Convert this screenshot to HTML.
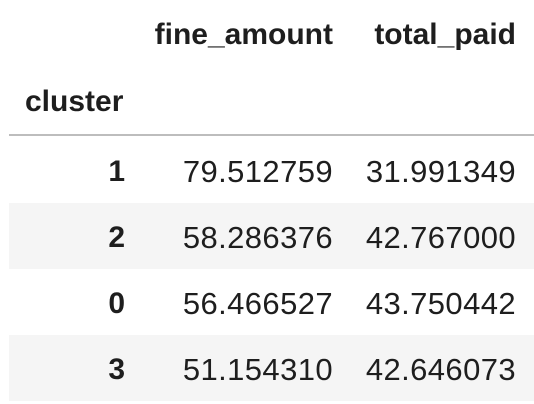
<!DOCTYPE html>
<html><head><meta charset="utf-8"><style>
body{margin:0;width:534px;height:404px;background:#fff;overflow:hidden;font-family:"Liberation Sans",Arial,sans-serif;color:#1e1e1e;position:relative}
.t{position:absolute;font-size:30px;line-height:30px;white-space:nowrap}
.n{font-size:31px;letter-spacing:0.4px}
.b{font-weight:bold}
.band{position:absolute;left:9px;width:525px;height:66px;background:#f5f5f5}
</style></head><body>
<div id="tbl"></div>
<script>
const idx=["1","2","0","3"];
const fine=["79.512759","58.286376","56.466527","51.154310"];
const paid=["31.991349","42.767000","43.750442","42.646073"];
const tbl=document.getElementById('tbl');
function txt(s,right,base,cls,name){
  const d=document.createElement('div');
  d.className='t '+cls;
  d.textContent=s;
  d.style.right=(534-right)+'px';
  d.style.top=(base-27)+'px';
  
  
  tbl.appendChild(d);
}
for(let i=0;i<idx.length;i++){
  if(i%2===1){
    const band=document.createElement('div');
    band.className='band';
    band.style.top=(137+66*i)+'px';
    
    
    tbl.appendChild(band);
  }
}
txt('fine_amount',333,47,'b','column-header-fine-amount');
txt('total_paid',516,47,'b','column-header-total-paid');
const c=document.createElement('div');
c.className='t b';c.textContent='cluster';c.style.left='25px';c.style.top=(114-27)+'px';


tbl.appendChild(c);
const line=document.createElement('div');
line.style.cssText='position:absolute;left:9px;width:525px;top:134px;height:2px;background:#bdbdbd';


tbl.appendChild(line);
for(let i=0;i<idx.length;i++){
  const base=184+66*i;
  txt(idx[i],125,base,'b','row-index');
  txt(fine[i],333,base,'n','cell-fine-amount');
  txt(paid[i],516,base,'n','cell-total-paid');
}
</script>
</body></html>
